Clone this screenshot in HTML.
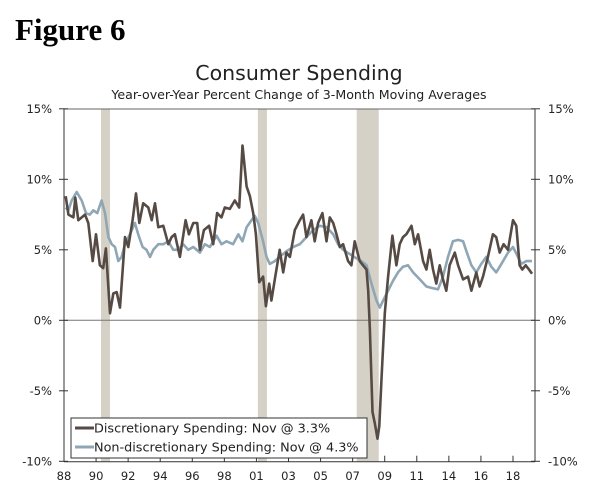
<!DOCTYPE html>
<html><head><meta charset="utf-8"><style>
body{margin:0;background:#fff;}
svg text{font-family:"DejaVu Sans","Liberation Sans",sans-serif;fill:#222;}
</style></head><body>
<svg width="600" height="494" viewBox="0 0 600 494">
<text x="15" y="40" style="font-family:'Liberation Serif',serif;font-weight:bold;font-size:31px;fill:#000">Figure 6</text>
<text x="299" y="80" text-anchor="middle" font-size="20.5">Consumer Spending</text>
<text x="299" y="99" text-anchor="middle" font-size="12.6">Year-over-Year Percent Change of 3-Month Moving Averages</text>
<g id="rec"></g>
<g id="axes"></g>
<g id="lines"></g>
<g>
<rect x="71" y="418" width="296" height="40" fill="#fff" stroke="#333" stroke-width="1"/>
<line x1="75" y1="428" x2="94" y2="428" stroke="#554b44" stroke-width="3"/>
<text x="94" y="432.5" font-size="12.8">Discretionary Spending: Nov @ 3.3%</text>
<line x1="75" y1="447" x2="94" y2="447" stroke="#8fa6b5" stroke-width="3"/>
<text x="94" y="451.5" font-size="12.8">Non-discretionary Spending: Nov @ 4.3%</text>
</g>
</svg>
<script>
const recStart=[1990.35,2000.75,2007.3];
const recEnd=[1990.95,2001.35,2008.76];
const yTicks=[15,10,5,0,-5,-10];
const xTickLabels=["88","90","92","94","96","98","01","03","05","07","09","11","14","16","18"];
const discDates=[1988.01,1988.19,1988.52,1988.65,1988.85,1989.29,1989.51,1989.80,1990.02,1990.28,1990.50,1990.68,1990.95,1991.17,1991.39,1991.61,1991.94,1992.16,1992.45,1992.67,1992.89,1993.15,1993.49,1993.71,1993.93,1994.15,1994.48,1994.81,1995.03,1995.25,1995.58,1995.96,1996.18,1996.47,1996.73,1996.91,1997.17,1997.52,1997.79,1998.05,1998.34,1998.56,1998.89,1999.22,1999.51,1999.73,2000.0,2000.22,2000.44,2000.62,2000.84,2001.10,2001.28,2001.50,2001.65,2001.87,2002.20,2002.43,2002.65,2002.87,2003.20,2003.53,2003.75,2003.97,2004.30,2004.52,2004.74,2005.03,2005.30,2005.52,2005.74,2005.96,2006.18,2006.40,2006.73,2006.95,2007.17,2007.50,2007.72,2007.95,2008.06,2008.17,2008.35,2008.5,2008.68,2008.8,2008.95,2009.16,2009.38,2009.67,2009.93,2010.15,2010.37,2010.59,2010.93,2011.15,2011.37,2011.70,2011.92,2012.14,2012.36,2012.58,2012.80,2013.02,2013.24,2013.46,2013.80,2014.02,2014.35,2014.68,2014.90,2015.23,2015.45,2015.67,2016.0,2016.33,2016.55,2016.78,2017.04,2017.33,2017.66,2017.88,2018.10,2018.28,2018.50,2018.72,2018.92];
const discValues=[8.8,7.5,7.3,8.7,7.1,7.5,6.9,4.2,6.1,3.9,3.7,5.1,0.5,1.9,2.0,0.9,5.9,5.2,7.1,9.0,6.9,8.3,8.0,7.1,8.3,6.6,6.7,5.4,5.9,6.1,4.5,7.1,6.1,6.9,6.9,5.0,6.4,6.7,5.4,7.6,7.3,8.0,7.9,8.5,8.0,12.4,9.5,8.8,7.6,6.1,2.7,3.1,1.0,2.6,1.4,2.9,5.0,3.4,4.8,4.5,6.4,7.1,7.5,5.9,7.1,5.6,6.9,7.6,5.6,7.3,6.9,6.1,5.2,5.4,4.2,3.9,5.6,4.2,3.9,3.6,2.1,-0.5,-6.5,-7.3,-8.4,-7.5,-4.0,0.5,3.1,6.0,3.9,5.4,5.9,6.1,6.7,5.4,6.1,4.2,3.6,5.0,3.6,2.6,3.9,2.9,2.1,3.9,4.8,3.9,2.9,3.1,2.1,3.4,2.4,3.1,4.5,6.1,5.9,4.8,5.4,5.0,7.1,6.7,3.9,3.6,3.9,3.6,3.3];
const nonDates=[1988.01,1988.19,1988.41,1988.74,1989.07,1989.36,1989.62,1989.84,1990.11,1990.39,1990.62,1990.84,1991.06,1991.28,1991.50,1991.72,1991.94,1992.27,1992.60,1992.82,1993.11,1993.37,1993.60,1993.82,1994.15,1994.48,1994.81,1995.14,1995.47,1995.80,1996.13,1996.47,1996.91,1997.24,1997.57,1997.79,1998.01,1998.34,1998.67,1999.11,1999.45,1999.73,2000.0,2000.33,2000.55,2000.77,2001.10,2001.32,2001.54,2001.87,2002.20,2002.65,2003.09,2003.53,2003.97,2004.41,2004.85,2005.30,2005.74,2006.07,2006.40,2006.84,2007.28,2007.61,2007.95,2008.28,2008.61,2008.83,2009.05,2009.38,2009.71,2010.04,2010.37,2010.70,2011.04,2011.48,2011.92,2012.25,2012.69,2013.02,2013.35,2013.68,2014.02,2014.35,2014.57,2014.90,2015.23,2015.56,2015.89,2016.22,2016.55,2016.89,2017.33,2017.66,2017.99,2018.21,2018.54,2018.92];
const nonValues=[8.0,7.8,8.5,9.1,8.5,7.6,7.5,7.8,7.6,8.5,7.6,5.9,5.4,5.2,4.2,4.5,5.4,6.1,6.9,6.1,5.2,5.0,4.5,5.0,5.4,5.4,5.6,5.0,5.0,5.4,5.0,5.2,4.8,5.4,5.2,5.6,6.0,5.4,5.6,5.4,6.1,5.6,6.6,7.1,7.4,6.9,5.6,4.5,4.0,4.2,4.5,4.9,5.2,5.4,5.9,6.4,6.7,6.6,6.1,5.4,5.0,4.7,4.4,4.2,3.9,2.6,1.4,0.9,1.4,2.1,2.8,3.4,3.8,3.9,3.4,2.9,2.4,2.3,2.2,3.1,4.5,5.6,5.7,5.6,4.9,3.9,3.4,4.0,4.5,3.8,3.4,4.0,4.8,5.2,4.5,4.0,4.2,4.2];

const L=64,R=532,AXR=535,T=109,B=461.7;
const X=t=>L+(t-1987.9)*(R-L)/(2018.92-1987.9);
const Y=v=>320.3-v*(320.3-179.3)/10;
const NS="http://www.w3.org/2000/svg";
function mk(tag,attrs,parent){const e=document.createElementNS(NS,tag);for(const k in attrs)e.setAttribute(k,attrs[k]);document.getElementById(parent).appendChild(e);return e;}
recStart.forEach((s,i)=>{
 const r=mk('rect',{x:X(s),y:T,width:X(recEnd[i])-X(s),height:B-T,fill:'#d6d1c6'},'rec');
 
 
});
let a=mk('line',{x1:L,y1:T,x2:AXR,y2:T,stroke:'#666','stroke-width':1},'axes');


a=mk('line',{x1:L,y1:T,x2:L,y2:B,stroke:'#333','stroke-width':1},'axes');


a=mk('line',{x1:AXR,y1:T,x2:AXR,y2:B,stroke:'#333','stroke-width':1},'axes');


a=mk('line',{x1:L,y1:Y(0),x2:AXR,y2:Y(0),stroke:'#777','stroke-width':1},'axes');


a=mk('line',{x1:L,y1:B,x2:AXR,y2:B,stroke:'#333','stroke-width':1},'axes');


yTicks.forEach(v=>{
 const y=Y(v);
 mk('line',{x1:L-5,y1:y,x2:L+4,y2:y,stroke:'#333'},'axes');
 mk('line',{x1:AXR-4,y1:y,x2:AXR+5,y2:y,stroke:'#333'},'axes');
 const t1=mk('text',{x:52,y:y+4,'text-anchor':'end','font-size':11.5},'axes');t1.textContent=v+'%';
 
 
 const t2=mk('text',{x:548,y:y+4,'font-size':11.5},'axes');t2.textContent=v+'%';
 
 
});
xTickLabels.forEach((lab,i)=>{
 const x=64+i*(513-64)/(xTickLabels.length-1);
 mk('line',{x1:x,y1:B,x2:x,y2:B-6,stroke:'#333'},'axes');
 const t=mk('text',{x:x,y:480,'text-anchor':'middle','font-size':11.5},'axes');t.textContent=lab;
 
 
});
function line(dates,vals,color,name){
 const d=dates.map((t,i)=>(i?'L':'M')+X(t).toFixed(1)+','+Y(vals[i]).toFixed(1)).join('');
 const p=mk('path',{d:d,fill:'none',stroke:color,'stroke-width':2.6,'stroke-linejoin':'round'},'lines');
 
 
}
line(nonDates,nonValues,'#8fa6b5','nondiscretionary-line');
line(discDates,discValues,'#554b44','discretionary-line');
</script>
</body></html>
